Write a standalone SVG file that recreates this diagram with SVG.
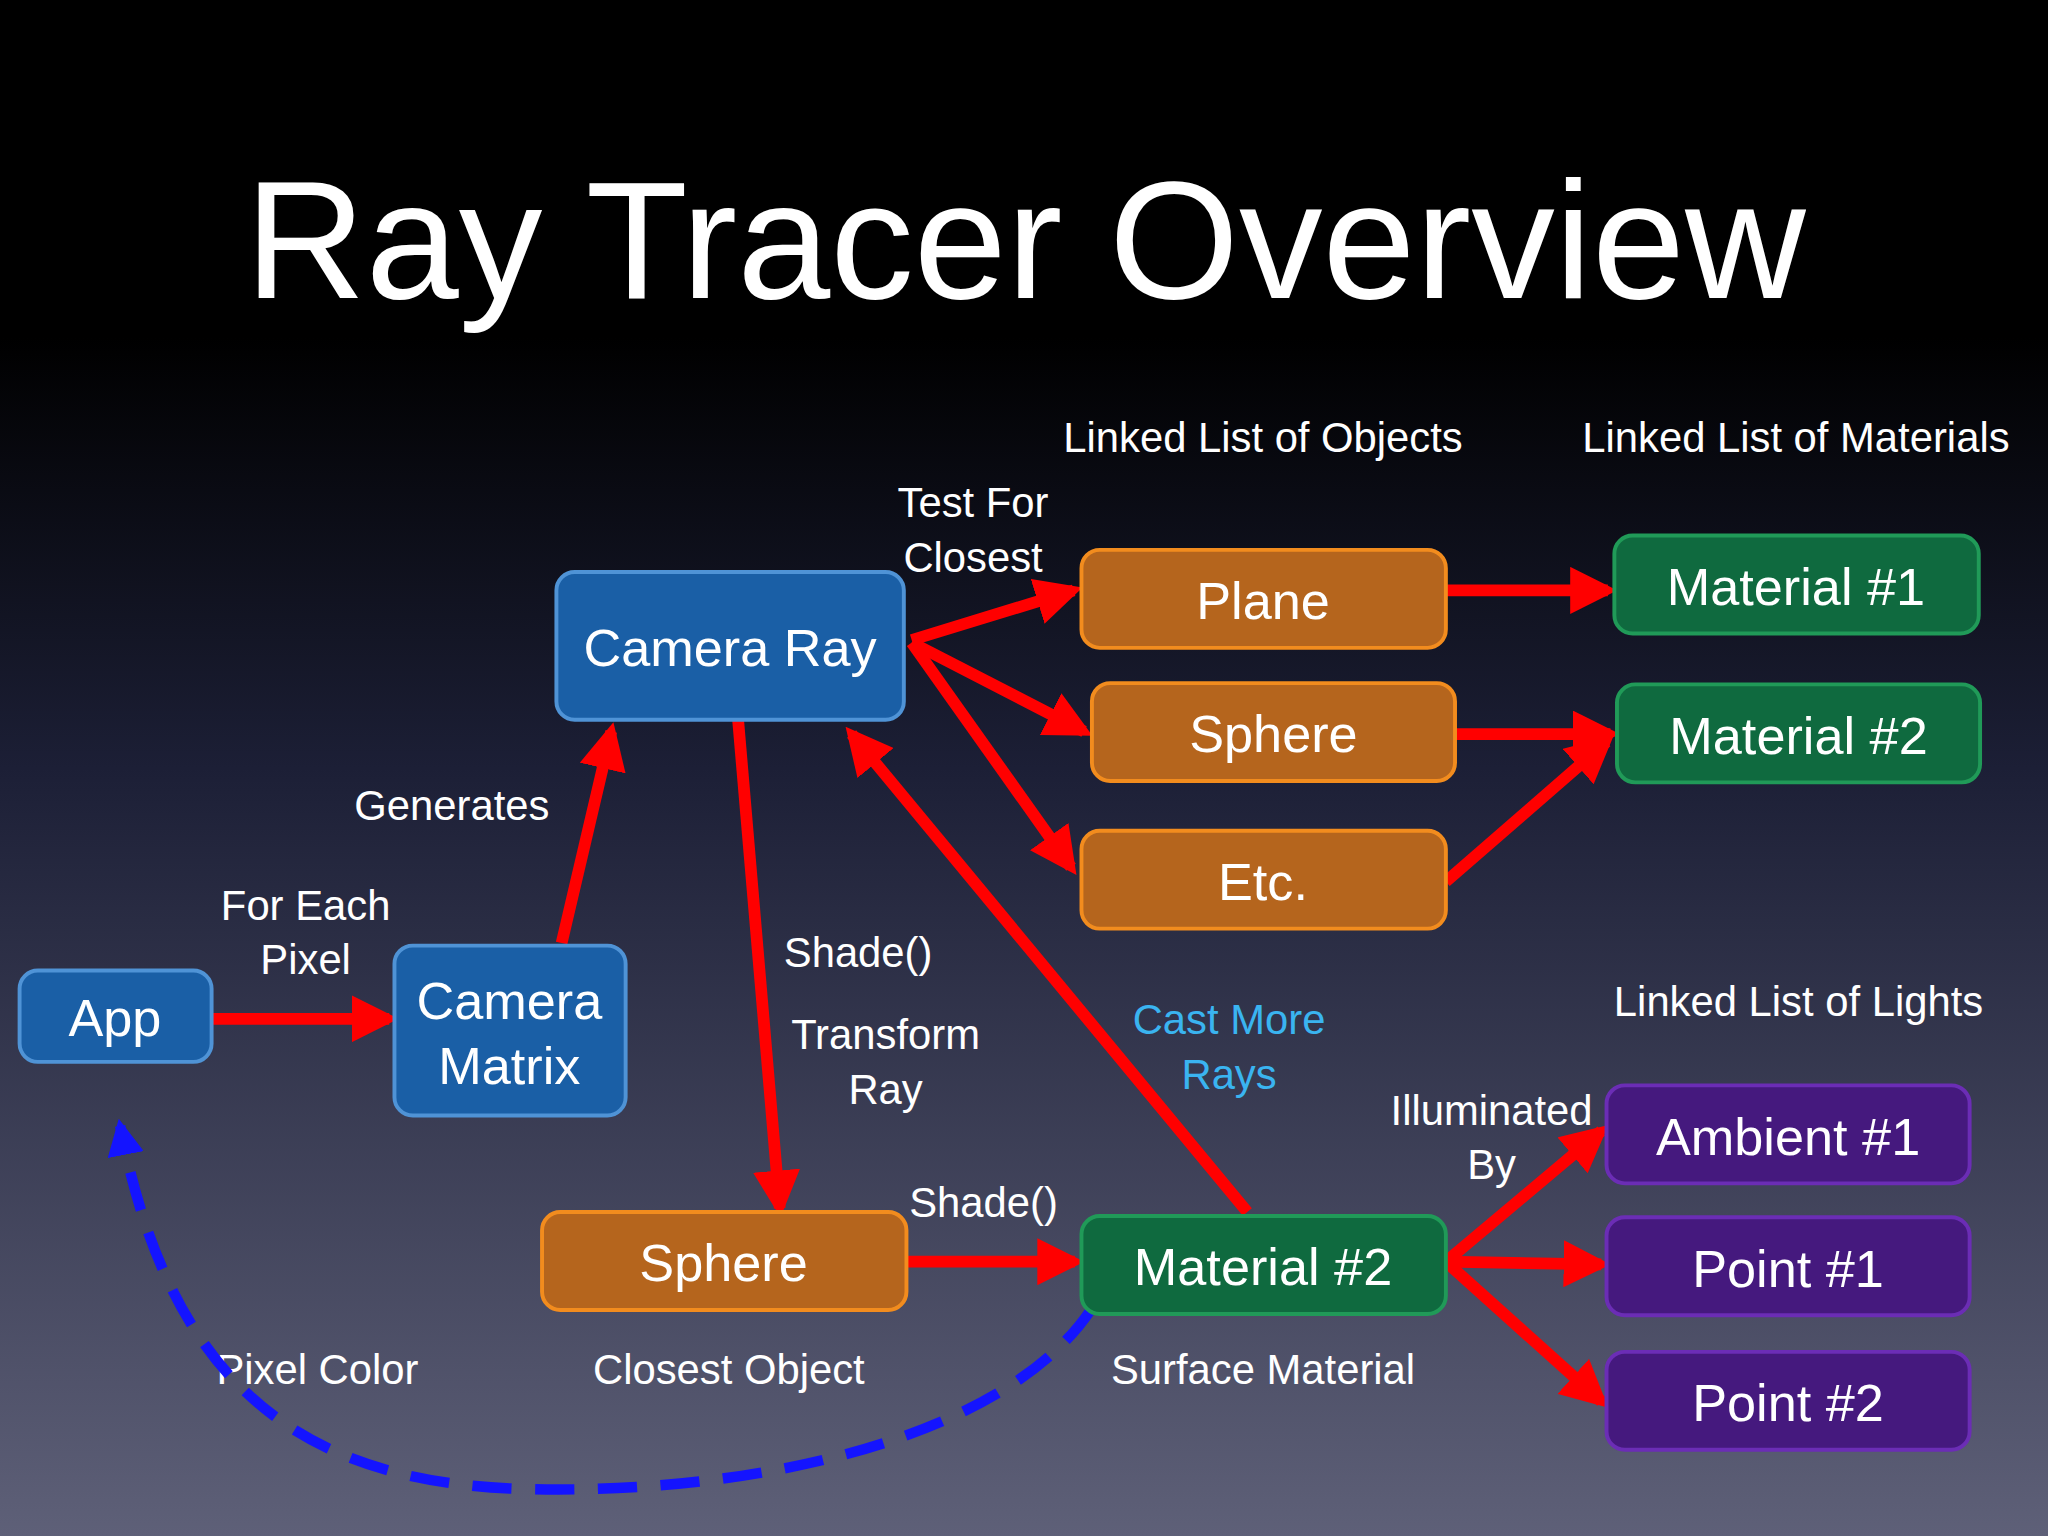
<svg xmlns="http://www.w3.org/2000/svg" width="2048" height="1536" viewBox="0 0 2048 1536">
<defs>
<linearGradient id="bg" x1="0" y1="0" x2="0" y2="1">
<stop offset="0" stop-color="#000"/><stop offset="0.22" stop-color="#000"/><stop offset="0.5" stop-color="#1c1f36"/><stop offset="1" stop-color="#5e6078"/>
</linearGradient>
<marker id="ar" viewBox="0 0 10 10" refX="8" refY="5" markerWidth="4" markerHeight="4" orient="auto" markerUnits="strokeWidth"><path d="M0,0L10,5L0,10z" fill="#ff0000"/></marker>
<marker id="ab" viewBox="0 0 10 10" refX="8" refY="5" markerWidth="3.5" markerHeight="3.5" orient="auto" markerUnits="strokeWidth"><path d="M0,0L10,5L0,10z" fill="#1414ff"/></marker>
<style>
text{font-family:"Liberation Sans",Arial,sans-serif;fill:#fff}
.n{font-size:40px;text-anchor:middle}
.l{font-size:32px}
.c{text-anchor:middle}
.blue rect{fill:#1a5fa6;stroke:#4f93d6;stroke-width:3}
.or rect{fill:#b5651d;stroke:#f28c1e;stroke-width:3}
.gr rect{fill:#0f6a3f;stroke:#209a58;stroke-width:3}
.pu rect{fill:#45197e;stroke:#6b2db5;stroke-width:3}
.e line{stroke:#ff0000;stroke-width:9;marker-end:url(#ar)}
</style>
</defs>
<rect width="2048" height="1536" fill="url(#bg)"/>
<g transform="scale(1.30612)">
<text x="785" y="228" class="c" style="font-size:128px">Ray Tracer Overview</text>
<g id="labels" class="l">
<text x="967" y="346" class="c">Linked List of Objects</text>
<text x="1375" y="346" class="c">Linked List of Materials</text>
<text x="745" y="396" class="c">Test For</text>
<text x="745" y="438" class="c">Closest</text>
<text x="346" y="628" class="c">Generates</text>
<text x="234" y="704" class="c">For Each</text>
<text x="234" y="746" class="c">Pixel</text>
<text x="657" y="740" class="c">Shade()</text>
<text x="678" y="803" class="c">Transform</text>
<text x="678" y="845" class="c">Ray</text>
<text x="941" y="792" class="c" style="fill:#3ab4f0">Cast More</text>
<text x="941" y="834" class="c" style="fill:#3ab4f0">Rays</text>
<text x="1377" y="778" class="c">Linked List of Lights</text>
<text x="1142" y="861" class="c">Illuminated</text>
<text x="1142" y="903" class="c">By</text>
<text x="753" y="932" class="c">Shade()</text>
<text x="243" y="1060" class="c">Pixel Color</text>
<text x="558" y="1060" class="c">Closest Object</text>
<text x="967" y="1060" class="c">Surface Material</text>
</g>
<g id="connectors">
<path d="M835,1003 C770,1100 580,1145 400,1140 C230,1135 130,1060 92,862" fill="none" stroke="#1414ff" stroke-width="8" stroke-dasharray="30,18" marker-end="url(#ab)"/>
<g class="e">
<line x1="163" y1="780" x2="298" y2="780"/>
<line x1="430" y1="722" x2="468" y2="560"/>
<line x1="698" y1="490" x2="822" y2="452"/>
<line x1="698" y1="492" x2="830" y2="560"/>
<line x1="698" y1="492" x2="820" y2="664"/>
<line x1="565" y1="550" x2="597" y2="925"/>
<line x1="955" y1="928" x2="652" y2="562"/>
<line x1="694" y1="966" x2="823" y2="966"/>
<line x1="1107" y1="452" x2="1231" y2="452"/>
<line x1="1114" y1="562" x2="1233" y2="562"/>
<line x1="1107" y1="675" x2="1230" y2="568"/>
<line x1="1107" y1="966" x2="1226" y2="866"/>
<line x1="1107" y1="966" x2="1226" y2="968"/>
<line x1="1107" y1="966" x2="1226" y2="1073"/>
</g>
</g>
<g id="app" class="blue"><rect x="15" y="743" width="147" height="70" rx="14"/><text x="88" y="793" class="n">App</text></g>
<g id="cammat" class="blue"><rect x="302" y="724" width="177" height="130" rx="14"/><text x="390" y="780" class="n">Camera</text><text x="390" y="830" class="n">Matrix</text></g>
<g id="camray" class="blue"><rect x="426" y="438" width="266" height="113" rx="14"/><text x="559" y="510" class="n">Camera Ray</text></g>
<g id="plane" class="or"><rect x="828" y="421" width="279" height="75" rx="14"/><text x="967" y="474" class="n">Plane</text></g>
<g id="sphere1" class="or"><rect x="836" y="523" width="278" height="75" rx="14"/><text x="975" y="576" class="n">Sphere</text></g>
<g id="etc" class="or"><rect x="828" y="636" width="279" height="75" rx="14"/><text x="967" y="689" class="n">Etc.</text></g>
<g id="mat1" class="gr"><rect x="1236" y="410" width="279" height="75" rx="14"/><text x="1375" y="463" class="n">Material #1</text></g>
<g id="mat2" class="gr"><rect x="1238" y="524" width="278" height="75" rx="14"/><text x="1377" y="577" class="n">Material #2</text></g>
<g id="sphere2" class="or"><rect x="415" y="928" width="279" height="75" rx="14"/><text x="554" y="981" class="n">Sphere</text></g>
<g id="mat2b" class="gr"><rect x="828" y="931" width="279" height="75" rx="14"/><text x="967" y="984" class="n">Material #2</text></g>
<g id="amb" class="pu"><rect x="1230" y="831" width="278" height="75" rx="14"/><text x="1369" y="884" class="n">Ambient #1</text></g>
<g id="pt1" class="pu"><rect x="1230" y="932" width="278" height="75" rx="14"/><text x="1369" y="985" class="n">Point #1</text></g>
<g id="pt2" class="pu"><rect x="1230" y="1035" width="278" height="75" rx="14"/><text x="1369" y="1088" class="n">Point #2</text></g>
</g>
</svg>
